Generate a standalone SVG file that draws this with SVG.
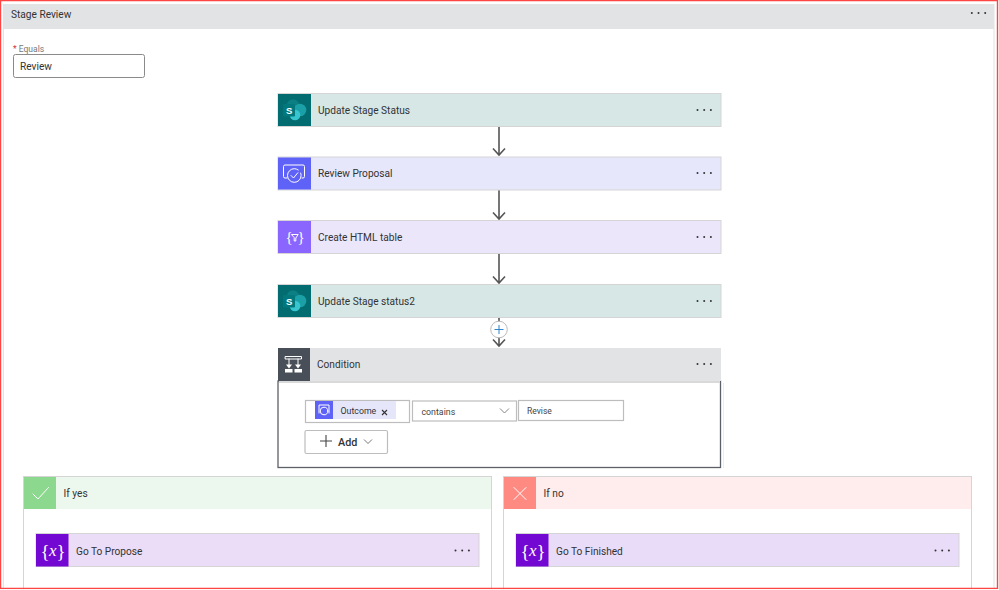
<svg xmlns="http://www.w3.org/2000/svg" width="999" height="590" viewBox="0 0 999 590">
<style>
text{font-family:Roboto,"Noto Sans","Liberation Sans",sans-serif;fill:#333}
.t{font-size:10.150px}
.card{stroke:#d5d5d5;stroke-width:1}
.dot{fill:#333}
.w{fill:none;stroke:#fff;stroke-width:1;stroke-linecap:round;stroke-linejoin:round}
.wt{font-family:"Liberation Serif",serif;fill:#fff}
.conn{fill:none;stroke:#555;stroke-width:1.6}
.box{fill:#fff;stroke:#bdbdbd;stroke-width:1.2}
.sp{fill:#036c70}
</style>
<defs>
<g id="dots"><circle cx="0" cy="0" r="1" class="dot"/><circle cx="6.700" cy="0" r="1" class="dot"/><circle cx="13.400" cy="0" r="1" class="dot"/></g>
<g id="spicon"><circle cx="15" cy="11.500" r="6.200" fill="#0b7f83"/><circle cx="22" cy="16" r="6.300" fill="#1aa0a6"/><circle cx="17" cy="21" r="5.300" fill="#37c6d0"/><rect x="5" y="10" width="12" height="12.500" rx="1.200" fill="#03787c"/><text x="8" y="20" font-size="9.500" font-weight="700" style="fill:#fff;font-family:'Liberation Sans',sans-serif">S</text></g>
<g id="fxicon"><text class="wt" x="4.500" y="23.500" font-size="19">{</text><text class="wt" x="13" y="22" font-size="17" font-style="italic">x</text><text class="wt" x="20.500" y="23.500" font-size="19">}</text></g>
</defs>
<rect width="999" height="590" fill="#fff"/>
<g id="stage-review">
<rect x="3.500" y="4.500" width="990.500" height="590" fill="#fff" stroke="#e3e3e3"/>
<rect x="4" y="5" width="990" height="24" fill="#e2e3e5"/>
<text class="t" x="11" y="18">Stage Review</text>
<use href="#dots" x="971.800" y="13"/>
<text x="13" y="52" font-size="8.500" style="fill:#777"><tspan style="fill:#d13438">* </tspan>Equals</text>
<rect x="13.500" y="54.500" width="131" height="23" rx="2" fill="#fff" stroke="#8a8a8a" stroke-width="1"/>
<text class="t" x="20" y="70">Review</text>
</g>
<g id="connectors">
<path class="conn" d="M499 126V155M493 148.500L499 155L505 148.500"/>
<path class="conn" d="M499 190V219M493 212.500L499 219L505 212.500"/>
<path class="conn" d="M499 253V283M493 276.500L499 283L505 276.500"/>
<path class="conn" d="M499 318V346M493 339.500L499 346L505 339.500"/>
</g>
<g id="update-stage-status">
<rect class="card" x="278" y="93.500" width="443" height="33" fill="#d7e7e6"/>
<rect x="278" y="94" width="33" height="32" class="sp"/>
<use href="#spicon" x="278" y="94"/>
<text class="t" x="318" y="114">Update Stage Status</text>
<use href="#dots" x="697.500" y="110"/>
</g>
<g id="review-proposal">
<rect class="card" x="278" y="157" width="443" height="33" fill="#e7e7fb"/>
<rect x="278" y="157.500" width="33" height="32" fill="#5f62f6"/>
<path class="w" d="M287 178H285Q283.500 178 283.500 176.500V166.500Q283.500 165 285 165H303Q304.500 165 304.500 166.500V176.500Q304.500 178 303 178H302"/>
<circle class="w" cx="294.300" cy="175.500" r="6.800" stroke-dasharray="36 4"/>
<path class="w" d="M291 175.500L293.500 178L297.800 172.800"/>
<text class="t" x="318" y="177">Review Proposal</text>
<use href="#dots" x="697.500" y="173"/>
</g>
<g id="create-html-table">
<rect class="card" x="278" y="220.500" width="443" height="33" fill="#ebe6fa"/>
<rect x="278" y="221" width="33" height="32" fill="#8a66ff"/>
<text class="wt" x="285.500" y="242" font-size="15">{</text>
<text class="wt" x="297.500" y="242" font-size="15">}</text>
<path class="w" d="M291.800 234.500H298.200L295.800 238V241H294.200V238Z" stroke-width=".8"/>
<text class="t" x="318" y="241">Create HTML table</text>
<use href="#dots" x="697.500" y="237"/>
</g>
<g id="update-stage-status2">
<rect class="card" x="278" y="284.500" width="443" height="33" fill="#d7e7e6"/>
<rect x="278" y="285" width="33" height="32" class="sp"/>
<use href="#spicon" x="278" y="285"/>
<text class="t" x="318" y="305">Update Stage status2</text>
<use href="#dots" x="697.500" y="301"/>
</g>
<g id="add-step">
<circle cx="499" cy="329.500" r="8.300" fill="#fff" stroke="#bbb" stroke-width="1"/>
<path d="M499 325V334M494.500 329.500H503.500" stroke="#2f85d0" stroke-width="1" fill="none"/>
</g>
<g id="condition">
<rect x="723" y="383" width="1" height="85" fill="#ececec"/>
<rect x="278" y="381" width="442.500" height="86.500" fill="#fff" stroke="#5c6068" stroke-width="1.300"/>
<rect x="279" y="381" width="441" height="2" fill="#d9d9d9"/>
<rect x="278" y="348" width="443" height="33" fill="#e2e3e5"/>
<rect x="278" y="348" width="32" height="33" fill="#484f58"/>
<path class="w" d="M285.500 356.500H301.500V359H285.500ZM289 359V365M298 359V365"/>
<path d="M286 364.500H292L289 368.500ZM295 364.500H301L298 368.500Z" fill="#fff"/>
<path d="M285 369H292.500V372.500H285ZM294.500 369H302V372.500H294.500Z" fill="#fff"/>
<text class="t" x="317" y="368">Condition</text>
<use href="#dots" x="697.500" y="364"/>
<rect class="box" x="305.500" y="400.500" width="104" height="22"/>
<rect x="315" y="401" width="81" height="18" fill="#e6e6fb"/>
<rect x="315" y="401" width="18" height="18" fill="#5f62f6"/>
<path class="w" d="M319 413V405H329V413" stroke-width=".8"/>
<circle class="w" cx="324" cy="411" r="3.800" stroke-width=".8"/>
<text x="340.500" y="414" font-size="8.800">Outcome</text>
<path d="M382 410L387 415M387 410L382 415" stroke="#333" stroke-width="1.100"/>
<rect class="box" x="412.500" y="401" width="104" height="20"/>
<text x="421.500" y="414.500" font-size="8.800" style="fill:#444">contains</text>
<path d="M500 408.500L504.500 413L509 408.500" fill="none" stroke="#777" stroke-width=".9"/>
<rect class="box" x="518.500" y="400.500" width="105" height="20"/>
<text x="527" y="414" font-size="8.500" style="fill:#444">Revise</text>
<rect class="box" x="305" y="430.500" width="82.500" height="23" rx="1.500"/>
<path d="M326 435V447M320 441H332" stroke="#444" stroke-width="1.100" fill="none"/>
<text x="338" y="446" font-size="10.800" font-weight="500">Add</text>
<path d="M364 439.500L368 443.500L372 439.500" fill="none" stroke="#666" stroke-width=".9"/>
</g>
<g id="if-yes">
<rect class="card" x="23.500" y="476.500" width="468" height="120" fill="#fff"/>
<rect x="24" y="477" width="467" height="32" fill="#ecf7ee"/>
<rect x="24" y="477" width="32" height="32" fill="#8bd88e"/>
<path class="w" d="M33 494L38 499L48.500 487.500" stroke-width="1.100"/>
<text class="t" x="63.500" y="497">If yes</text>
</g>
<g id="go-to-propose">
<rect class="card" x="36" y="533.500" width="443" height="33" fill="#ebdcf7"/>
<rect x="36" y="534" width="32.500" height="32.500" fill="#7308d2"/>
<use href="#fxicon" x="36" y="534"/>
<text class="t" x="76" y="555">Go To Propose</text>
<use href="#dots" x="455.500" y="550.500"/>
</g>
<g id="if-no">
<rect class="card" x="503.500" y="476.500" width="468" height="120" fill="#fff"/>
<rect x="504" y="477" width="467" height="32" fill="#ffecec"/>
<rect x="504" y="477" width="32" height="32" fill="#ff8a82"/>
<path class="w" d="M514 487.500L526 499.500M526 487.500L514 499.500"/>
<text class="t" x="543.500" y="497">If no</text>
</g>
<g id="go-to-finished">
<rect class="card" x="516" y="533.500" width="443" height="33" fill="#e9dcf8"/>
<rect x="516" y="534" width="32.500" height="32.500" fill="#7308d2"/>
<use href="#fxicon" x="516" y="534"/>
<text class="t" x="556" y="555">Go To Finished</text>
<use href="#dots" x="935.500" y="550.500"/>
</g>
<path d="M0 588.500H998M0.500 0V589M997.500 0V589M0 .5H998" fill="none" stroke="#f44" stroke-width="1.400"/>
<rect x="0" y="589.200" width="999" height="1" fill="#fff"/>
</svg>
